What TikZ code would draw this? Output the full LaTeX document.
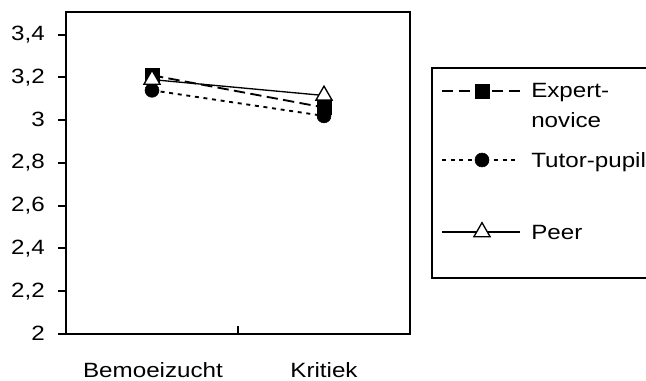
\documentclass[tikz,border=0pt]{standalone}
\usepackage{fontspec}
\setmainfont[FakeStretch=1.17]{Liberation Sans}
\usetikzlibrary{shapes.geometric}
\tikzset{
  ax/.style={line width=1.5pt},
  lbl/.style={font=\fontsize{15.5pt}{18pt}\selectfont, inner sep=0pt},
  sq/.style={rectangle, fill=black, draw=black, minimum size=10.5pt, inner sep=0pt},
  dot/.style={circle, fill=black, draw=black, minimum size=10.5pt, inner sep=0pt},
  tri/.style={regular polygon, regular polygon sides=3, fill=white, draw=black, line width=1pt, minimum size=14pt, inner sep=0pt},
  expline/.style={line width=1.4pt, dash pattern=on 8.5pt off 4pt},
  tutline/.style={line width=1.4pt, dash pattern=on 3pt off 3.5pt},
  peerline/.style={line width=1pt}
}
\begin{document}
\begin{tikzpicture}[x=0.75pt,y=-0.75pt]
\useasboundingbox (0,0) rectangle (646,381);
\clip (0,0) rectangle (646,381);
% plot frame
\draw[ax] (66,12) rectangle (410,334);
% y ticks and labels
\foreach \v/\t in {2/2, 2.2/{2,2}, 2.4/{2,4}, 2.6/{2,6}, 2.8/{2,8}, 3/3, 3.2/{3,2}, 3.4/{3,4}}{
  \pgfmathsetmacro{\py}{334-(\v-2)*213.8}
  \draw[ax] (58,\py) -- (66,\py);
  \node[lbl, anchor=base east] (yl\v) at (45,\py+6) {\t};
}
% x tick
\draw[ax] (238,334) -- (238,326);
\node[lbl, anchor=base] (cb) at (153,377) {Bemoeizucht};
\node[lbl, anchor=base] (ck) at (324,377) {Kritiek};
% data points
\coordinate (e1) at (152,75.3);
\coordinate (e2) at (324,107.5);
\coordinate (t1) at (152,90.3);
\coordinate (t2) at (324,115.9);
\coordinate (p1) at (152,79.6);
\coordinate (p2) at (324,95.5);
\draw[expline] (e1) -- (e2);
\node[sq] (me1) at (e1) {};
\node[sq] (me2) at (e2) {};
\draw[tutline] (t1) -- (t2);
\node[dot] (mt1) at (t1) {};
\node[dot] (mt2) at (t2) {};
\draw[peerline] (p1) -- (p2);
\node[tri] (mp1) at (p1) {};
\node[tri] (mp2) at (p2) {};
% legend
\draw[line width=1.2pt] (432,68) rectangle (680,278);
\coordinate (la1) at (442,91);
\coordinate (lb1) at (520,91);
\draw[expline] (la1) -- (lb1);
\node[sq] (lm1) at (482,91) {};
\node[lbl, anchor=base west] (lt1) at (531,98) {Expert-};
\node[lbl, anchor=base west] (lt1b) at (531,128) {novice};
\coordinate (la2) at (442,160);
\coordinate (lb2) at (520,160);
\draw[tutline] (la2) -- (lb2);
\node[dot] (lm2) at (482,160) {};
\node[lbl, anchor=base west] (lt2) at (531,168) {Tutor-pupil};
\coordinate (la3) at (442,232);
\coordinate (lb3) at (520,232);
\draw[peerline] (la3) -- (lb3);
\node[tri] (lm3) at (482,232) {};
\node[lbl, anchor=base west] (lt3) at (531,239) {Peer};
\end{tikzpicture}
\end{document}
